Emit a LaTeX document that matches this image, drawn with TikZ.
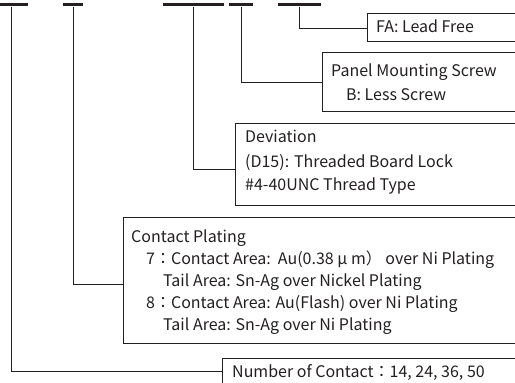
\documentclass[tikz,border=0pt]{standalone}
\usepackage{fontspec}
\setmainfont{Noto Sans CJK JP}
\definecolor{ink}{HTML}{231F20}
\begin{document}
\begin{tikzpicture}[x=1pt,y=-1pt,
  bar/.style={fill=ink, inner sep=0, minimum height=3.2pt, anchor=north west},
  lead/.style={draw=ink, line width=1.3pt},
  box/.style={draw=ink, line width=1.4pt, inner sep=0, anchor=north west, minimum width=420pt},
  txt/.style={anchor=base west, inner sep=0, text=ink, font=\fontsize{16}{19}\selectfont}]
\useasboundingbox (0,0) rectangle (515,383);
\clip (0,0) rectangle (515,383);
% bars
\node[bar, minimum width=28pt] (b1) at (0,3) {};
\node[bar, minimum width=20pt] (b2) at (63,3) {};
\node[bar, minimum width=61pt] (b3) at (163,3) {};
\node[bar, minimum width=24pt] (b4) at (229,3) {};
\node[bar, minimum width=43pt] (b5) at (278,3) {};
% boxes
\node[box, minimum height=28pt] (fa) at (367,13) {};
\node[box, minimum height=59pt] (pm) at (322,52) {};
\node[box, minimum height=82pt] (dev) at (235,123) {};
\node[box, minimum height=126pt] (cp) at (123,217) {};
\node[box, minimum height=28pt] (nc) at (222,358) {};
% connectors
\draw[lead] ([xshift=-3pt]b1.south) |- ([yshift=1pt]nc.west);
\draw[lead] (b2.south) |- ([yshift=-4pt]cp.west);
\draw[lead] (b3.south) |- ([yshift=-5pt]dev.west);
\draw[lead] (b4.south) |- (pm.west);
\draw[lead] ([xshift=-0.5pt]b5.south) |- ([yshift=-1pt]fa.west);
% texts
\node[txt] (t1) at (376,32) {FA: Lead Free};
\node[txt] (t2) at (331,76) {Panel Mounting Screw};
\node[txt] (t3) at (346,100) {B: Less Screw};
\node[txt] (t4) at (245,142) {Deviation};
\node[txt] (t5) at (245,167) {(D15): Threaded Board Lock};
\node[txt] (t6) at (245,190) {\#4-40UNC Thread Type};
\node[txt] (t7) at (131,242) {Contact Plating};
\node[txt] (t8) at (146,264) {7：Contact Area:\ \ Au(0.38 μ m） over Ni Plating};
\node[txt] (t9) at (163,286) {Tail Area: Sn-Ag over Nickel Plating};
\node[txt] (t10) at (146,308) {8：Contact Area: Au(Flash) over Ni Plating};
\node[txt] (t11) at (163,330) {Tail Area: Sn-Ag over Ni Plating};
\node[txt] (t12) at (232,377) {Number of Contact：14, 24, 36, 50};
\end{tikzpicture}
\end{document}
